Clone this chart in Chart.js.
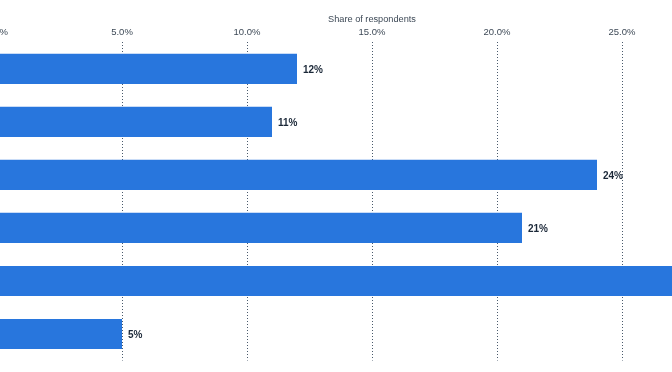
<!DOCTYPE html>
<html>
<head>
<meta charset="utf-8">
<script src="https://cdn.jsdelivr.net/npm/chart.js@4/dist/chart.umd.min.js"></script>
<style>
  html, body { margin: 0; padding: 0; background: #ffffff; overflow: hidden; width: 672px; height: 372px; }
  #wrap { position: absolute; left: -23px; top: 0; width: 790px; height: 372px; }
</style>
</head>
<body>
<div id="wrap"><canvas id="c" width="790" height="372"></canvas></div>
<script>
const categories = ["Category 1", "Category 2", "Category 3", "Category 4", "Category 5", "Category 6"];
const shareValues = [12, 11, 24, 21, 28, 5];
const valueLabels = ["12%", "11%", "24%", "21%", "28%", "5%"];
const axisTitle = "Share of respondents";

const FONT = "'Liberation Sans', Arial, Helvetica, sans-serif";

const barLabelPlugin = {
  id: 'barLabels',
  afterDatasetsDraw(chart) {
    const ctx = chart.ctx;
    const meta = chart.getDatasetMeta(0);
    ctx.save();
    ctx.font = "bold 10px " + FONT;
    ctx.fillStyle = '#1b2838';
    ctx.textAlign = 'left';
    ctx.textBaseline = 'middle';
    meta.data.forEach((el, i) => {
      ctx.fillText(valueLabels[i], el.x + 6, el.y + 1.5);
    });
    ctx.restore();
  }
};

new Chart(document.getElementById('c'), {
  type: 'bar',
  data: {
    labels: categories,
    datasets: [{
      data: shareValues,
      backgroundColor: '#2876dd',
      borderWidth: 0,
      categoryPercentage: 1,
      barPercentage: 0.57
    }]
  },
  options: {
    indexAxis: 'y',
    responsive: false,
    animation: false,
    layout: { padding: { left: 20, right: 20, top: 0, bottom: 11.5 } },
    plugins: { legend: { display: false }, tooltip: { enabled: false } },
    scales: {
      x: {
        position: 'top',
        min: 0,
        max: 30,
        ticks: {
          stepSize: 5,
          padding: 4,
          color: '#3d4956',
          font: { family: FONT, size: 9.5 },
          callback: (v) => v.toFixed(1) + '%'
        },
        grid: {
          display: true,
          drawTicks: false,
          color: '#4a5a6c',
          lineWidth: 1
        },
        border: { display: false, dash: [1, 2] },
        title: {
          display: true,
          text: axisTitle,
          color: '#3d4956',
          font: { family: FONT, size: 9.2 },
          padding: { top: 14, bottom: -2 }
        }
      },
      y: {
        display: true,
        ticks: { display: false },
        grid: { display: false, drawTicks: false },
        border: { display: false }
      }
    }
  },
  plugins: [barLabelPlugin]
});
</script>
</body>
</html>
